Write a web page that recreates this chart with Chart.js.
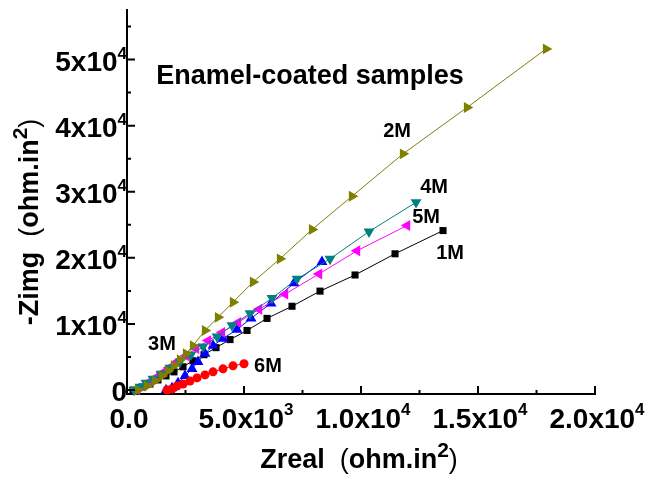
<!DOCTYPE html>
<html>
<head>
<meta charset="utf-8">
<script src="https://cdn.jsdelivr.net/npm/chart.js@4.4.1/dist/chart.umd.min.js"></script>
<style>
  html, body { margin: 0; padding: 0; background: #fff; }
  #wrap { width: 645px; height: 477px; }
</style>
</head>
<body>
<div id="wrap"><canvas id="chart"></canvas></div>
<script>
// Nyquist data, ohm.in^2
const x1M = [256, 641, 983, 1325, 1667, 2009, 2394, 2821, 3291, 3804, 4402, 5129, 5984, 7052, 8249, 9745, 11454, 13506];
const y1M = [0, 458, 916, 1527, 2138, 2749, 3512, 4428, 5345, 6413, 7635, 9009, 10842, 12674, 14965, 17408, 20615, 24127];

const x2M = [470, 855, 1197, 1496, 1752, 2009, 2265, 2522, 2821, 3334, 3889, 4530, 5385, 6539, 7907, 9617, 11796, 14532, 17908];
const y2M = [0, 611, 1374, 2138, 2902, 3665, 4581, 5497, 6719, 9009, 10994, 13285, 16339, 19851, 24279, 29318, 35732, 42756, 51613];

const x3M = [1667, 1923, 2180, 2479, 2778, 3035, 3334, 3676, 4103, 4701, 5300, 6155, 7138, 8334];
const y3M = [0, 305, 1069, 2138, 3207, 4276, 5497, 6719, 7788, 9162, 10842, 13132, 16186, 19393];

const x4M = [299, 556, 812, 1111, 1453, 1838, 2265, 2735, 3248, 3847, 4488, 5257, 6197, 7266, 8676, 10343, 12352];
const y4M = [0, 458, 1069, 1680, 2443, 3360, 4276, 5345, 6566, 8093, 9773, 11605, 13896, 16797, 19851, 23974, 28402];

const x5M = [427, 684, 940, 1197, 1496, 1795, 2137, 2522, 2949, 3462, 4060, 4744, 5642, 6753, 8206, 9830, 11967];
const y5M = [0, 611, 1222, 1832, 2596, 3359, 4276, 5192, 6261, 7482, 8704, 10231, 12216, 14507, 17561, 21073, 24890];

const x6M = [1710, 1923, 2137, 2394, 2693, 2992, 3334, 3676, 4103, 4530, 5000];
const y6M = [0, 153, 611, 916, 1374, 1832, 2290, 2749, 3207, 3665, 3970];

// axis ticks
const xTicks = [0, 5000, 10000, 15000, 20000];
const xTickText = ['0.0', '5.0x10', '1.0x10', '1.5x10', '2.0x10'];
const xTickExp = ['', '3', '4', '4', '4'];
const xMinor = [2500, 7500, 12500, 17500];

const yTicks = [0, 10000, 20000, 30000, 40000, 50000];
const yTickText = ['0', '1x10', '2x10', '3x10', '4x10', '5x10'];
const yTickExp = ['', '4', '4', '4', '4', '4'];
const yMinor = [5000, 15000, 25000, 35000, 45000, 55000];

const FONT = '"Liberation Sans", Arial, sans-serif';

const pts = (xs, ys) => xs.map((x, i) => ({ x, y: ys[i] }));

function series(label, xs, ys, color, style, rotation, radius) {
    return {
        label,
        data: pts(xs, ys),
        borderColor: color,
        backgroundColor: color,
        borderWidth: 1,
        pointStyle: style,
        rotation,
        pointRadius: radius,
        pointBorderWidth: 0,
        tension: 0,
        clip: false,
    };
}

// draw a run of text pieces [text, font, dy] one after another
function drawParts(ctx, parts, x, y, align) {
    let w = 0;
    parts.forEach(p => { ctx.font = p[1]; w += ctx.measureText(p[0]).width; });
    let cx = align === 'center' ? x - w / 2 : align === 'right' ? x - w : x;
    ctx.textAlign = 'left';
    ctx.textBaseline = 'alphabetic';
    parts.forEach(p => {
        ctx.font = p[1];
        ctx.fillText(p[0], cx, y + (p[2] || 0));
        cx += ctx.measureText(p[0]).width;
    });
}

const axisDeco = {
    id: 'axisDeco',
    afterDraw(chart, args, opts) {
        const { ctx, chartArea: a } = chart;
        const xs = chart.scales.x, ys = chart.scales.y;
        ctx.save();
        ctx.fillStyle = '#000';
        ctx.strokeStyle = '#000';
        ctx.lineWidth = 2;

        // inward tick marks
        ctx.beginPath();
        xTicks.forEach(v => { const p = xs.getPixelForValue(v); ctx.moveTo(p, a.bottom); ctx.lineTo(p, a.bottom - 8); });
        xMinor.forEach(v => { const p = xs.getPixelForValue(v); ctx.moveTo(p, a.bottom); ctx.lineTo(p, a.bottom - 4); });
        yTicks.forEach(v => { const p = ys.getPixelForValue(v); ctx.moveTo(a.left, p); ctx.lineTo(a.left + 8, p); });
        yMinor.forEach(v => { const p = ys.getPixelForValue(v); ctx.moveTo(a.left, p); ctx.lineTo(a.left + 4, p); });
        ctx.stroke();

        const big = 'bold 28px ' + FONT, sup = 'bold 17px ' + FONT;

        // tick labels
        xTicks.forEach((v, i) => {
            drawParts(ctx, [[xTickText[i], big, 0], [xTickExp[i], sup, -13]],
                xs.getPixelForValue(v) + 2, a.bottom + 34, 'center');
        });
        yTicks.forEach((v, i) => {
            drawParts(ctx, [[yTickText[i], big, 0], [yTickExp[i], sup, -12]],
                a.left, ys.getPixelForValue(v) + 11, 'right');
        });

        // axis titles
        const tb = 'bold 27px ' + FONT, tn = '27px ' + FONT, ts = 'bold 21px ' + FONT;
        drawParts(ctx, [['Zreal  ', tb, 0], ['(', tn, 0], ['ohm.in', tb, 0], ['2', ts, -11], [')', tn, 0]],
            359, 468, 'center');
        ctx.save();
        ctx.translate(38, 222);
        ctx.rotate(-Math.PI / 2);
        drawParts(ctx, [['-Zimg  ', tb, 0], ['(', tn, 0], ['ohm.in', tb, 0], ['2', ts, -11], [')', tn, 0]],
            0, 0, 'center');
        ctx.restore();

        // in-plot text, anchored in data units
        opts.notes.forEach(n => {
            ctx.font = 'bold ' + n.size + 'px ' + FONT;
            ctx.textAlign = 'center';
            ctx.textBaseline = 'middle';
            ctx.fillText(n.text, xs.getPixelForValue(n.x), ys.getPixelForValue(n.y));
        });
        ctx.restore();
    }
};

new Chart(document.getElementById('chart'), {
    type: 'line',
    data: {
        // first dataset ends up on top
        datasets: [
            series('6M', x6M, y6M, '#FF0000', 'circle', 0, 4.5),
            series('2M', x2M, y2M, '#808000', 'triangle', 90, 6.3),
            series('4M', x4M, y4M, '#008080', 'triangle', 180, 6.3),
            series('5M', x5M, y5M, '#FF00FF', 'triangle', -90, 6.3),
            series('3M', x3M, y3M, '#0000FF', 'triangle', 0, 6.3),
            series('1M', x1M, y1M, '#000000', 'rect', 0, 5),
        ]
    },
    options: {
        responsive: true,
        maintainAspectRatio: false,
        animation: false,
        layout: { padding: { left: 119, right: 50, top: 10, bottom: 75 } },
        plugins: {
            legend: { display: false },
            tooltip: { enabled: false },
            axisDeco: {
                notes: [
                    { text: 'Enamel-coated samples', x: 7821, y: 47490, size: 27 },
                    { text: '2M', x: 11540, y: 39090, size: 20 },
                    { text: '4M', x: 13121, y: 30693, size: 20 },
                    { text: '5M', x: 12779, y: 26112, size: 20 },
                    { text: '1M', x: 13805, y: 20615, size: 20 },
                    { text: '3M', x: 1496, y: 6872, size: 20 },
                    { text: '6M', x: 6026, y: 3512, size: 20 },
                ]
            }
        },
        scales: {
            x: {
                type: 'linear',
                min: 0, max: 20000,
                grid: { display: false },
                border: { display: true, color: '#000', width: 2 },
                ticks: { display: false }
            },
            y: {
                type: 'linear',
                min: -600, max: 57500,
                grid: { display: false },
                border: { display: true, color: '#000', width: 2 },
                ticks: { display: false }
            }
        }
    },
    plugins: [axisDeco]
});
</script>
</body>
</html>
